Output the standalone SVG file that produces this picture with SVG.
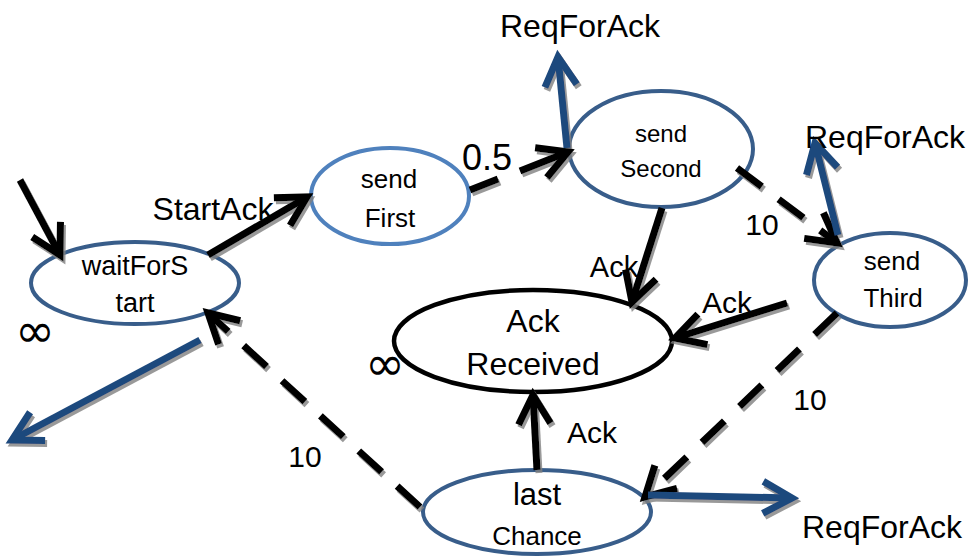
<svg xmlns="http://www.w3.org/2000/svg" width="970" height="558" viewBox="0 0 970 558">
  <style>
    .state { fill: #ffffff; stroke: #385d8a; stroke-width: 4; }
    .state.light { stroke: #4f81bd; }
    .state.final { stroke: #000000; stroke-width: 4.5; }
    text { font-family: "Liberation Sans", Arial, sans-serif; fill: #000000; text-anchor: middle; }
    .inf { font-family: "DejaVu Sans", sans-serif; font-size: 48px; }
    .edge { fill: none; stroke: #000000; stroke-width: 7; marker-end: url(#head-black); }
    .edge.dashed { stroke-dasharray: 31 21; }
    .edge.out { stroke: #1f497d; marker-end: url(#head-blue); }
    .lbl { font-size: 30px; }
    .big { font-size: 32px; }
  </style>
  <defs>
    <marker id="head-black" markerUnits="userSpaceOnUse" viewBox="-40 -25 50 50" refX="0" refY="0" markerWidth="50" markerHeight="50" orient="auto" overflow="visible">
      <path d="M-29,-16 L0,0 L-29,16" fill="none" stroke="#000000" stroke-width="7" stroke-dasharray="none"/>
    </marker>
    <marker id="head-blue" markerUnits="userSpaceOnUse" viewBox="-40 -25 50 50" refX="0" refY="0" markerWidth="50" markerHeight="50" orient="auto" overflow="visible">
      <path d="M-29,-16 L0,0 L-29,16" fill="none" stroke="#1f497d" stroke-width="7" stroke-dasharray="none"/>
    </marker>
    <filter id="shadow" x="-5%" y="-5%" width="115%" height="115%">
      <feOffset in="SourceAlpha" dx="2" dy="3" result="off"/>
      <feFlood flood-color="#808080" flood-opacity="0.8"/>
      <feComposite in2="off" operator="in" result="sh"/>
      <feMerge>
        <feMergeNode in="sh"/>
        <feMergeNode in="SourceGraphic"/>
      </feMerge>
    </filter>
  </defs>

  <rect width="970" height="558" fill="#ffffff"/>

  <!-- states -->
  <g id="waitForStart">
    <ellipse class="state" cx="135" cy="283" rx="104" ry="41"/>
    <text x="135" y="275" font-size="27">waitForS</text>
    <text x="135" y="312" font-size="27">tart</text>
    <text class="inf" x="35" y="347">∞</text>
  </g>
  <g id="sendFirst">
    <ellipse class="state light" cx="390" cy="196" rx="79" ry="48"/>
    <text x="389" y="188" font-size="26">send</text>
    <text x="390" y="227" font-size="26">First</text>
  </g>
  <g id="sendSecond">
    <ellipse class="state" cx="661" cy="149" rx="92" ry="58"/>
    <text x="661" y="142" font-size="24">send</text>
    <text x="661" y="177" font-size="24">Second</text>
  </g>
  <g id="sendThird">
    <ellipse class="state" cx="890" cy="280" rx="76" ry="47"/>
    <text x="892" y="270" font-size="26">send</text>
    <text x="893" y="307" font-size="26">Third</text>
  </g>
  <g id="ackReceived">
    <ellipse class="state final" cx="533" cy="341" rx="139" ry="51"/>
    <text class="big" x="533" y="332">Ack</text>
    <text class="big" x="533" y="375">Received</text>
    <text class="inf" x="385" y="380">∞</text>
  </g>
  <g id="lastChance">
    <ellipse class="state" cx="537" cy="512" rx="114" ry="42"/>
    <text x="537" y="505" font-size="31">last</text>
    <text x="537" y="545" font-size="26">Chance</text>
  </g>

  <!-- transitions -->
  <g id="connectors" filter="url(#shadow)">
    <path class="edge" d="M20,180 L60,255"/>
    <path class="edge" d="M208,255 L307,197"/>
    <path class="edge" d="M470,190 L498,179 M520,171 L568,152"/>
    <path class="edge dashed" d="M737,168 L837,243"/>
    <path class="edge" d="M662,208 L632,302"/>
    <path class="edge" d="M787,303 L675,338"/>
    <path class="edge dashed" d="M837,313 L645,497"/>
    <path class="edge" d="M537,470 L533,395"/>
    <path class="edge dashed" d="M420,507 L208,313"/>
    <path class="edge out" d="M567,148 L558,57"/>
    <path class="edge out" d="M838,235 L815,143"/>
    <path class="edge out" d="M648,495 L792,498"/>
    <path class="edge out" d="M200,340 L12,440"/>
  </g>

  <!-- transition labels -->
  <g id="labels">
    <text class="big" x="213" y="220">StartAck</text>
    <text x="487" y="170" font-size="36">0.5</text>
    <text class="big" x="580" y="37">ReqForAck</text>
    <text class="big" x="885" y="148">ReqForAck</text>
    <text class="lbl" x="762" y="235">10</text>
    <text x="614" y="277" font-size="29">Ack</text>
    <text class="lbl" x="727" y="313">Ack</text>
    <text class="lbl" x="810" y="410">10</text>
    <text class="lbl" x="592" y="443">Ack</text>
    <text class="lbl" x="305" y="467">10</text>
    <text class="big" x="882" y="538">ReqForAck</text>
  </g>
</svg>
